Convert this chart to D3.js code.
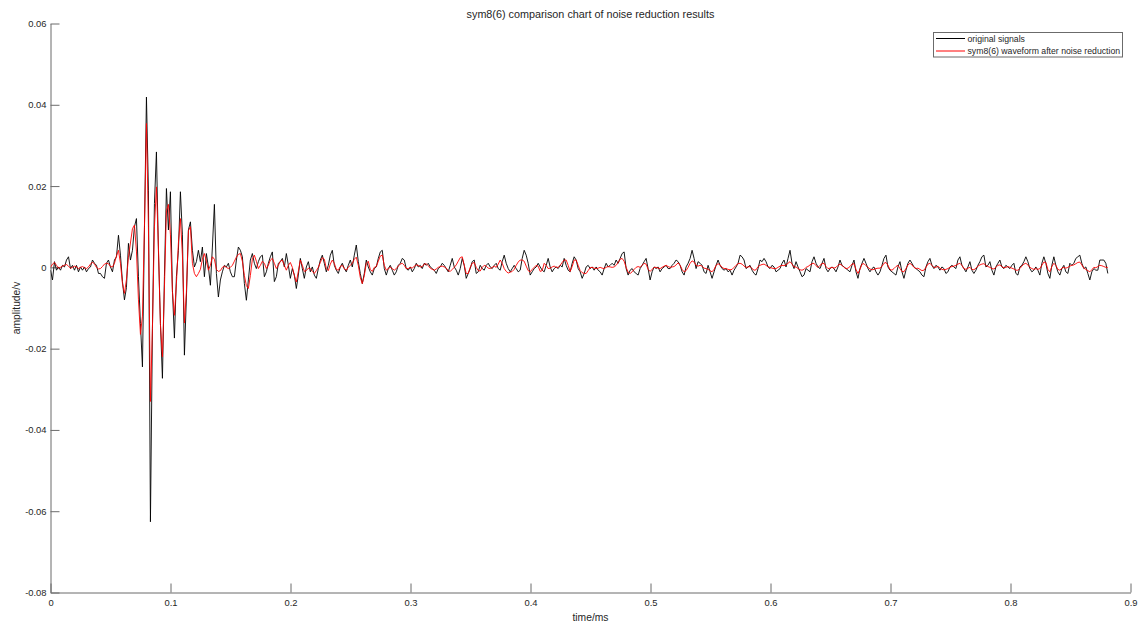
<!DOCTYPE html>
<html>
<head>
<meta charset="utf-8">
<script src="https://cdn.jsdelivr.net/npm/d3@7"></script>
<style>
  body { margin: 0; background: #fff; }
  svg { display: block; }
  text { font-family: "Liberation Sans", Arial, Helvetica, sans-serif; }
</style>
</head>
<body>
<svg id="chart" width="1140" height="625"></svg>
<script>
// ---------------- data ----------------
const titleText = "sym8(6) comparison chart of noise reduction results";
const xLabelText = "time/ms";
const yLabelText = "amplitude/v";
const seriesNames = ["original signals", "sym8(6) waveform after noise reduction"];
const seriesColors = ["#000000", "#ff0000"];
const sampleIntervalMs = 0.0016656;

const xTicks = [0, 0.1, 0.2, 0.3, 0.4, 0.5, 0.6, 0.7, 0.8, 0.9];
const xTickLabels = ["0", "0.1", "0.2", "0.3", "0.4", "0.5", "0.6", "0.7", "0.8", "0.9"];
const yTicks = [0.06, 0.04, 0.02, 0, -0.02, -0.04, -0.06, -0.08];
const yTickLabels = ["0.06", "0.04", "0.02", "0", "-0.02", "-0.04", "-0.06", "-0.08"];

// amplitudes in millivolts, one value per sample
const originalMv = [
-0.7,-3.1,1.4,-0.7,0.1,-0.7,0.5,0.1,1.8,2.6,-0.3,0.5,-0.7,0.5,-1.1,0.1,-0.7,0.1,-1.1,-0.3,
0.1,1.8,1.0,0.5,-1.5,-1.5,-2.3,-2.7,1.0,1.8,0.1,-1.1,1.8,2.6,7.9,3.0,-3.5,-8.0,-5.0,5.9,
1.8,4.2,10.0,12.0,-2.3,-13.8,-24.5,9.2,41.9,19.0,-62.6,-15.0,15.7,28.4,4.2,-13.8,-27.3,-2.3,19.4,9.2,
18.6,-5.6,-17.4,-2.3,4.2,18.6,8.0,-21.6,-7.3,9.2,11.2,4.2,0.1,1.4,4.2,1.4,5.0,-2.3,3.4,0.1,
-4.4,5.0,15.5,-1.5,-7.3,-3.1,-1.1,0.5,0.1,1.0,-1.1,-2.3,-2.3,1.8,5.0,4.2,2.6,-4.0,-8.1,-3.1,
1.8,3.4,1.0,-0.3,1.4,2.6,3.0,-2.3,-1.1,1.0,2.6,3.8,-3.5,-2.3,1.0,1.4,2.2,0.1,3.4,0.5,
-2.7,-0.3,-1.9,-5.2,-1.9,2.2,-0.3,-2.7,0.1,1.4,-1.1,0.1,-1.9,-2.7,-0.3,1.8,3.0,1.0,-1.1,0.5,
3.0,4.2,0.5,-0.7,-1.5,0.1,1.0,-0.3,-1.1,0.5,1.8,0.1,3.0,5.5,1.4,-1.5,-4.0,-1.5,1.8,0.1,
-1.1,-1.9,-0.3,0.1,2.2,3.8,4.2,-0.3,-1.9,-0.3,0.5,-0.7,-1.9,-1.1,0.5,1.0,2.2,1.8,-0.3,-0.7,
0.1,-1.1,-0.3,1.0,0.1,0.5,-0.3,1.0,0.5,1.0,0.1,-0.3,-0.7,-1.5,-0.3,0.1,1.0,0.5,-0.3,-1.1,
0.5,2.2,0.1,-0.7,-1.9,-0.3,2.2,0.5,-2.7,-1.5,-0.3,1.4,1.8,-1.5,-1.1,0.5,-0.3,-0.7,0.5,1.0,
0.1,-0.3,0.5,1.0,-0.3,-0.7,1.4,3.0,1.0,-0.3,-1.1,-0.3,0.5,-0.3,-1.1,-0.7,2.2,4.2,3.0,1.0,
-1.9,-1.1,-0.3,0.1,1.0,0.1,-0.7,-1.1,0.5,2.2,0.1,-1.1,-0.3,0.1,-0.3,0.5,0.1,2.2,0.5,-0.7,
-1.1,1.0,2.6,1.8,-0.3,-1.1,-2.7,-1.5,0.1,0.5,-0.3,0.1,-0.7,0.1,-0.7,-1.1,-1.9,-0.3,1.0,0.1,
0.5,1.0,0.5,1.8,1.0,2.2,3.4,3.8,-0.3,-1.9,-0.7,-0.3,-1.1,-1.5,-1.9,-0.3,0.5,1.4,2.2,-0.3,
-3.1,-1.1,0.1,-0.3,0.1,-1.1,-0.3,0.1,0.5,-0.3,-0.3,0.5,1.0,1.8,1.4,0.5,-1.1,-1.9,0.1,1.0,
2.2,4.2,2.2,-0.3,1.4,1.0,0.5,-1.1,-1.5,0.5,-1.1,-2.7,-1.1,0.5,1.8,0.5,-0.3,-0.7,-0.3,-1.1,
-0.7,-1.9,-0.7,0.1,1.0,3.0,2.6,1.8,-0.3,0.1,0.5,-0.7,-1.5,-1.9,-0.3,1.8,1.4,2.2,1.4,0.1,
-0.3,0.5,0.1,-1.1,-0.7,-0.3,1.0,1.8,0.1,2.2,4.2,1.0,-0.3,1.4,0.1,-1.1,-2.3,-1.9,-0.3,-0.7,
-1.1,1.4,2.6,1.0,0.1,-0.3,1.0,2.2,-0.3,-1.1,-0.3,0.1,-0.3,-1.1,0.1,1.8,0.5,0.1,-0.3,-0.7,
-1.1,0.5,1.8,-1.1,-2.7,-0.3,1.0,2.2,1.0,-0.3,-1.1,-0.3,0.1,-1.1,-1.9,-1.1,0.5,2.2,3.0,0.1,
-0.7,-1.1,-1.5,-1.9,0.1,1.4,-1.1,-2.7,-0.7,1.0,1.8,1.0,0.1,-0.3,-0.7,-1.1,-1.9,-2.3,0.1,1.4,
2.2,0.5,-0.3,0.5,0.1,-0.7,0.1,-0.3,-1.5,-1.1,0.1,0.5,0.1,-0.3,1.8,2.6,0.5,-0.3,-1.1,0.1,
1.4,-0.7,-1.5,-0.7,0.5,1.4,2.6,3.0,0.1,0.5,1.4,-0.7,-1.9,0.1,1.0,1.8,0.1,-0.3,0.5,0.1,
-0.3,0.5,1.0,-1.5,-1.9,0.1,0.5,1.4,2.6,1.4,-0.3,-1.1,-0.7,0.1,-0.7,-1.9,1.0,2.6,1.0,-1.5,
-2.7,0.5,2.6,0.5,-1.1,-1.9,-0.3,0.5,-1.1,-1.5,1.0,0.5,1.0,2.2,2.6,3.0,1.0,-0.3,0.1,-1.5,
-3.1,-1.1,-0.3,-0.7,-0.7,1.8,1.8,1.8,1.0,-1.5
];

const denoisedMv = [
0.0,0.8,1.2,0.5,-0.2,0.0,0.3,0.5,0.7,0.3,-0.2,0.0,0.3,0.1,-0.3,0.0,0.2,-0.1,-0.3,0.1,
0.8,1.3,0.8,0.0,-0.4,-0.3,0.2,0.8,1.0,0.9,0.2,0.1,1.0,2.8,4.2,1.0,-4.0,-6.4,-3.0,2.5,
6.0,9.5,10.4,4.0,-8.0,-16.5,-12.0,10.0,35.4,10.0,-33.0,-15.0,10.0,19.8,5.0,-14.0,-22.0,-5.0,14.0,15.5,
8.0,-6.0,-11.8,-4.0,6.0,12.0,3.0,-13.7,-6.0,9.0,10.0,1.0,-1.5,-2.3,-1.5,-0.5,2.0,3.4,1.5,-0.7,
0.5,2.6,2.0,-0.5,-1.0,-0.8,0.0,0.3,0.0,-0.3,0.0,0.5,1.5,2.5,3.2,3.4,1.5,-2.0,-4.5,-5.2,
-2.0,2.0,3.0,1.5,-0.3,0.5,1.5,1.0,-0.3,0.5,1.8,2.2,1.0,-0.3,0.5,1.5,1.8,0.5,-0.7,0.5,
1.2,0.0,-2.0,-3.6,-1.0,1.8,0.5,-1.0,-0.8,-0.2,-0.3,-1.0,-1.5,-0.8,0.0,1.2,2.4,2.0,-0.3,-0.8,
0.8,1.8,1.0,-0.5,-0.7,0.2,0.5,-0.3,-0.7,0.0,0.5,1.0,2.0,2.5,0.5,-2.5,-4.0,-2.0,1.0,1.5,
-0.5,-1.0,0.0,0.2,1.5,2.8,3.0,0.5,-0.7,-0.3,0.0,-0.3,-0.7,-0.3,0.3,0.8,1.0,0.5,-0.3,-0.3,
0.0,-0.2,0.3,0.6,0.5,0.1,0.2,0.8,0.9,0.4,-0.2,-0.5,-0.7,-0.4,0.0,0.2,0.3,0.1,-0.2,-0.8,
-1.0,-0.5,0.0,0.6,1.5,2.4,2.6,0.5,-1.5,-1.5,0.0,1.0,1.2,0.0,-0.8,-0.9,0.0,0.5,0.3,-0.2,
-0.3,0.0,0.3,0.0,0.8,1.8,1.0,-0.3,-1.0,-1.4,-1.2,-1.0,-0.5,0.5,1.3,1.8,1.8,1.5,0.3,-0.8,
-1.1,-0.5,0.0,0.5,0.3,-1.0,-0.8,1.0,0.5,-0.3,-0.2,0.1,0.3,0.0,0.0,0.5,1.2,1.8,1.8,0.5,
-1.0,0.2,1.8,1.8,0.5,-0.8,-1.3,-1.5,-1.5,-0.8,-0.1,0.0,-0.2,-0.3,-0.2,0.0,-0.2,-0.3,0.0,0.2,
0.1,0.0,0.1,0.5,1.2,2.0,2.2,1.5,0.0,-1.2,-1.5,-1.1,-0.5,0.0,0.2,0.0,0.5,1.0,0.8,-0.5,
-1.0,-0.5,0.0,0.0,-0.2,-0.3,0.0,0.3,0.5,0.2,0.0,0.1,0.2,0.6,1.1,0.5,-0.5,-1.1,-0.8,0.0,
1.0,1.6,1.3,0.5,0.3,0.5,0.3,-0.2,-0.3,-0.5,-0.8,-1.1,-0.5,0.5,0.9,0.6,0.0,-0.3,-0.3,-0.5,
-0.6,-0.5,0.0,0.5,0.9,1.0,0.8,0.3,0.0,0.1,0.2,-0.3,-0.7,-0.6,0.2,0.5,0.7,0.8,0.5,0.1,
0.0,-0.2,-0.3,-0.3,0.0,0.3,0.5,0.4,0.6,1.0,1.4,0.8,0.1,0.1,-0.3,-0.6,-0.7,-0.5,0.0,0.2,
0.6,0.9,1.0,0.4,0.0,0.5,0.9,1.0,0.2,-0.3,-0.2,0.0,-0.2,0.0,0.5,0.8,0.5,0.0,-0.3,-0.2,
0.2,0.8,0.9,-0.5,-1.5,-0.5,0.8,0.9,0.4,0.0,-0.4,-0.6,-0.5,-0.3,-0.2,-0.2,0.2,1.0,1.2,0.5,
-0.5,-0.7,-0.3,0.2,0.5,-0.3,-1.0,-1.1,-0.3,0.6,1.0,0.6,0.0,-0.3,-0.2,-0.5,-0.8,-0.7,0.0,0.8,
1.0,0.5,0.0,0.0,0.3,-0.2,-0.5,-0.6,-0.5,-0.3,0.0,0.2,0.3,0.5,0.8,1.0,0.5,-0.3,-0.5,-0.2,
0.0,-0.5,-0.6,-0.2,0.3,0.6,0.8,0.9,0.5,0.2,0.0,-0.3,-0.4,0.0,0.5,0.6,0.2,-0.1,0.0,0.2,
0.0,-0.2,-0.4,-0.7,-0.7,-0.3,0.3,0.8,1.0,0.6,0.0,-0.3,-0.5,-0.3,-0.5,-0.3,0.5,1.3,1.2,-0.5,
-1.1,0.2,1.0,0.5,-0.5,-0.7,-0.2,0.0,-0.2,0.0,0.3,0.5,0.6,0.9,1.2,1.3,0.6,-0.2,-0.5,-0.8,
-1.1,-0.6,0.0,-0.1,0.2,0.5,0.4,0.2,0.0,0.0
];

// ---------------- chart ----------------
const svg = d3.select("#chart");
const W = 1140, H = 625;
svg.append("rect").attr("width", W).attr("height", H).attr("fill", "#fff");

const plot = { left: 50.5, right: 1130.5, top: 23.5, bottom: 592.5 };
const x = d3.scaleLinear().domain([0, 0.9]).range([plot.left, plot.right]);
const y = d3.scaleLinear().domain([-0.08, 0.06]).range([plot.bottom, plot.top]);

const axisColor = "#6b6b6b";
const textColor = "#262626";

// x axis
const xAxis = d3.axisBottom(x)
  .tickValues(xTicks)
  .tickFormat((d, i) => xTickLabels[i])
  .tickSizeInner(-9)
  .tickSizeOuter(0)
  .tickPadding(7);
const gx = svg.append("g").attr("transform", `translate(0,${plot.bottom})`).call(xAxis);

// y axis
const yAxis = d3.axisLeft(y)
  .tickValues(yTicks)
  .tickFormat((d, i) => yTickLabels[i])
  .tickSizeInner(-9)
  .tickSizeOuter(0)
  .tickPadding(4);
const gy = svg.append("g").attr("transform", `translate(${plot.left},0)`).call(yAxis);

[gx, gy].forEach(g => {
  g.select(".domain").attr("stroke", axisColor).attr("stroke-width", 1);
  g.selectAll(".tick line").attr("stroke", axisColor).attr("stroke-width", 1);
  g.selectAll(".tick text").attr("fill", textColor)
    .style("font-family", '"Liberation Sans", Arial, sans-serif')
    .style("font-size", "9.4px");
});

// lines
const toPoints = arr => arr.map((v, i) => [i * sampleIntervalMs, v / 1000]);
const line = d3.line().x(d => x(d[0])).y(d => y(d[1]));

const clipId = "plotclip";
svg.append("clipPath").attr("id", clipId)
  .append("rect").attr("x", plot.left).attr("y", plot.top)
  .attr("width", plot.right - plot.left).attr("height", plot.bottom - plot.top);

const lines = svg.append("g").attr("clip-path", `url(#${clipId})`);
[originalMv, denoisedMv].forEach((arr, k) => {
  lines.append("path")
    .datum(toPoints(arr))
    .attr("fill", "none")
    .attr("stroke", seriesColors[k])
    .attr("stroke-width", 0.9)
    .attr("stroke-linejoin", "round")
    .attr("d", line);
});

// title and labels
svg.append("text")
  .attr("x", (plot.left + plot.right) / 2).attr("y", 18)
  .attr("text-anchor", "middle").attr("fill", textColor)
  .style("font-size", "10.8px").text(titleText);

svg.append("text")
  .attr("x", (plot.left + plot.right) / 2).attr("y", 621)
  .attr("text-anchor", "middle").attr("fill", textColor)
  .style("font-size", "10.3px").text(xLabelText);

svg.append("text")
  .attr("transform", `translate(20,${(plot.top + plot.bottom) / 2}) rotate(-90)`)
  .attr("text-anchor", "middle").attr("fill", textColor)
  .style("font-size", "10.3px").text(yLabelText);

// legend
const legend = svg.append("g");
legend.append("rect")
  .attr("x", 933.5).attr("y", 32.5).attr("width", 189).attr("height", 24.5)
  .attr("fill", "#fff").attr("stroke", axisColor).attr("stroke-width", 1);
seriesNames.forEach((name, i) => {
  const ly = 38.5 + i * 12.5;
  legend.append("line")
    .attr("x1", 936).attr("x2", 965).attr("y1", ly).attr("y2", ly)
    .attr("stroke", seriesColors[i]).attr("stroke-width", 1);
  legend.append("text")
    .attr("x", 967.5).attr("y", ly + 3.2)
    .attr("fill", textColor).style("font-size", "8.7px")
    .text(name);
});
</script>
</body>
</html>
